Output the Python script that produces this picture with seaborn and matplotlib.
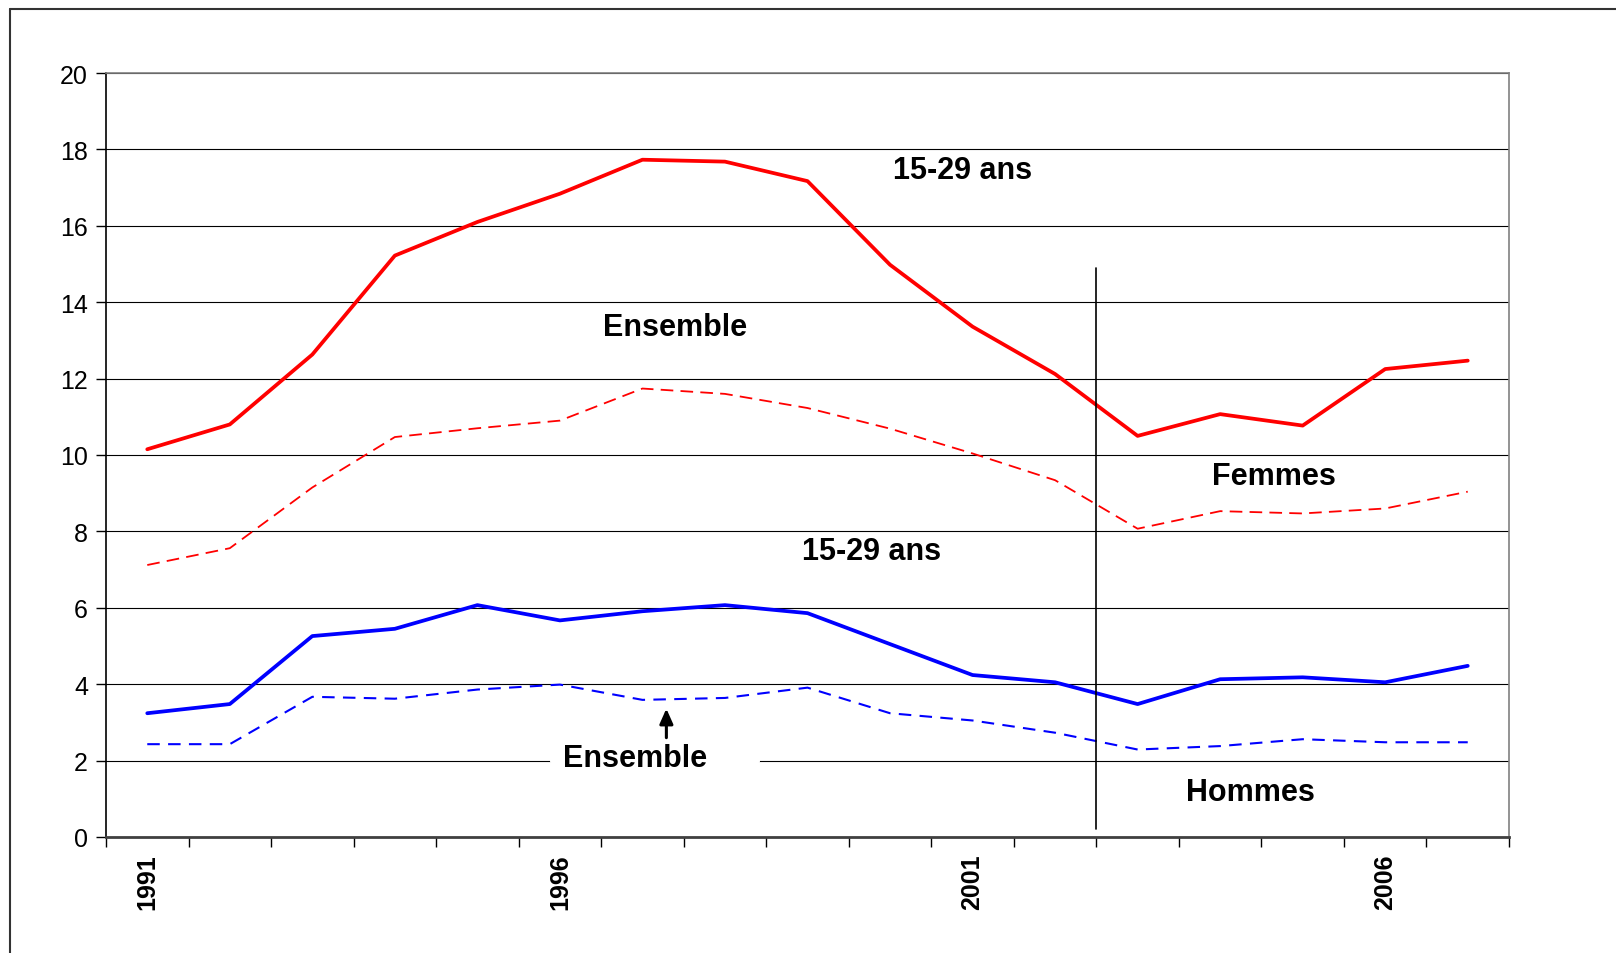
import matplotlib
matplotlib.use("Agg")
import matplotlib.pyplot as plt
import seaborn as sns
import pandas as pd
from matplotlib.lines import Line2D

years = list(range(1991, 2008))
femmes_1529 = [10.15, 10.8, 12.63, 15.22, 16.1, 16.84, 17.73, 17.68, 17.17, 14.98,
               13.36, 12.12, 10.5, 11.07, 10.77, 12.25, 12.47]
femmes_ens = [7.12, 7.56, 9.15, 10.47, 10.7, 10.9, 11.74, 11.6, 11.23, 10.69,
              10.04, 9.34, 8.07, 8.53, 8.47, 8.6, 9.04]
hommes_1529 = [3.24, 3.48, 5.26, 5.45, 6.07, 5.67, 5.91, 6.07, 5.86, 5.05,
               4.24, 4.05, 3.48, 4.13, 4.18, 4.05, 4.48]
hommes_ens = [2.43, 2.43, 3.67, 3.62, 3.86, 3.99, 3.59, 3.64, 3.91, 3.24,
              3.05, 2.73, 2.29, 2.38, 2.56, 2.48, 2.48]
yticks = [0, 2, 4, 6, 8, 10, 12, 14, 16, 18, 20]
xlabel_years = [1991, 1996, 2001, 2006]

sns.set_style("white")
plt.rcParams['font.family'] = ['Liberation Sans', 'DejaVu Sans']
plt.rcParams['text.color'] = 'black'
plt.rcParams['xtick.color'] = 'black'
plt.rcParams['ytick.color'] = 'black'

fig = plt.figure(figsize=(16.16, 9.54), dpi=100)
ax = fig.add_axes([106/1616, 1-838/954, (1509-106)/1616, (838-74)/954])

idx = list(range(len(years)))
df = pd.DataFrame({"i": idx, "f1529": femmes_1529, "fens": femmes_ens,
                   "h1529": hommes_1529, "hens": hommes_ens})

sns.lineplot(data=df, x="i", y="f1529", ax=ax, color="#FF0000", lw=2.7, zorder=5)
sns.lineplot(data=df, x="i", y="fens", ax=ax, color="#FF0000", lw=1.3, zorder=5)
ax.lines[-1].set_dashes([7, 4])
sns.lineplot(data=df, x="i", y="h1529", ax=ax, color="#0000FF", lw=2.7, zorder=5)
sns.lineplot(data=df, x="i", y="hens", ax=ax, color="#0000FF", lw=1.5, zorder=5)
ax.lines[-1].set_dashes([6, 4])

ax.set_xlim(-0.5, len(years) - 0.5)
ax.set_ylim(0, 20)
ax.set_yticks(yticks)
ax.set_yticklabels([str(v) for v in yticks], fontsize=18)
ax.yaxis.grid(True, color="black", lw=0.8)
ax.set_axisbelow(True)

ax.set_xticks([i - 0.5 for i in range(len(years) + 1)])
ax.set_xticklabels([])
ax.set_xticks([years.index(y) for y in xlabel_years], minor=True)
ax.set_xticklabels([str(y) for y in xlabel_years], minor=True, rotation=90,
                   fontsize=18, fontweight="bold")
ax.tick_params(axis="x", which="major", direction="out", length=7, color="black",
               width=1, bottom=True)
ax.tick_params(axis="x", which="minor", length=0, pad=12, bottom=True)
ax.tick_params(axis="y", direction="out", length=7, color="black", width=1, left=True, pad=6)
ax.set_xlabel("")
ax.set_ylabel("")

for side in ["top", "right"]:
    ax.spines[side].set_color("#808080")
    ax.spines[side].set_linewidth(1.2)
ax.spines["left"].set_color("black")
ax.spines["left"].set_linewidth(1.2)
ax.spines["bottom"].set_color("#404040")
ax.spines["bottom"].set_linewidth(2)

# separator line between 2002 and 2003
ax.plot([11.5, 11.5], [0.2, 14.9], color="black", lw=1.2, zorder=6)

# white mask under lower "Ensemble" label
ax.plot([4.9, 7.4], [2, 2], color="white", lw=3, zorder=1.5)

tkw = dict(fontsize=22, fontweight="bold", ha="center", va="center", zorder=7,
           color="black")
ax.text(9.88, 17.45, "15-29 ans", **tkw)
ax.text(6.39, 13.36, "Ensemble", **tkw)
ax.text(13.65, 9.45, "Femmes", **tkw)
ax.text(8.78, 7.5, "15-29 ans", **tkw)
ax.text(5.91, 2.08, "Ensemble", **tkw)
ax.text(13.37, 1.19, "Hommes", **tkw)
ax.annotate("", xy=(6.29, 3.36), xytext=(6.29, 2.6),
            arrowprops=dict(arrowstyle="-|>,head_length=0.45,head_width=0.2",
                            color="black", lw=2.2, mutation_scale=20,
                            shrinkA=0, shrinkB=0),
            zorder=7)

# outer frame
fig.add_artist(Line2D([10/1616, 10/1616], [0, 1-10/954], transform=fig.transFigure,
                      color="#333333", lw=1.5))
fig.add_artist(Line2D([10/1616, 1], [1-10/954, 1-10/954], transform=fig.transFigure,
                      color="#333333", lw=1.5))

fig.savefig("out.png", dpi=100)
